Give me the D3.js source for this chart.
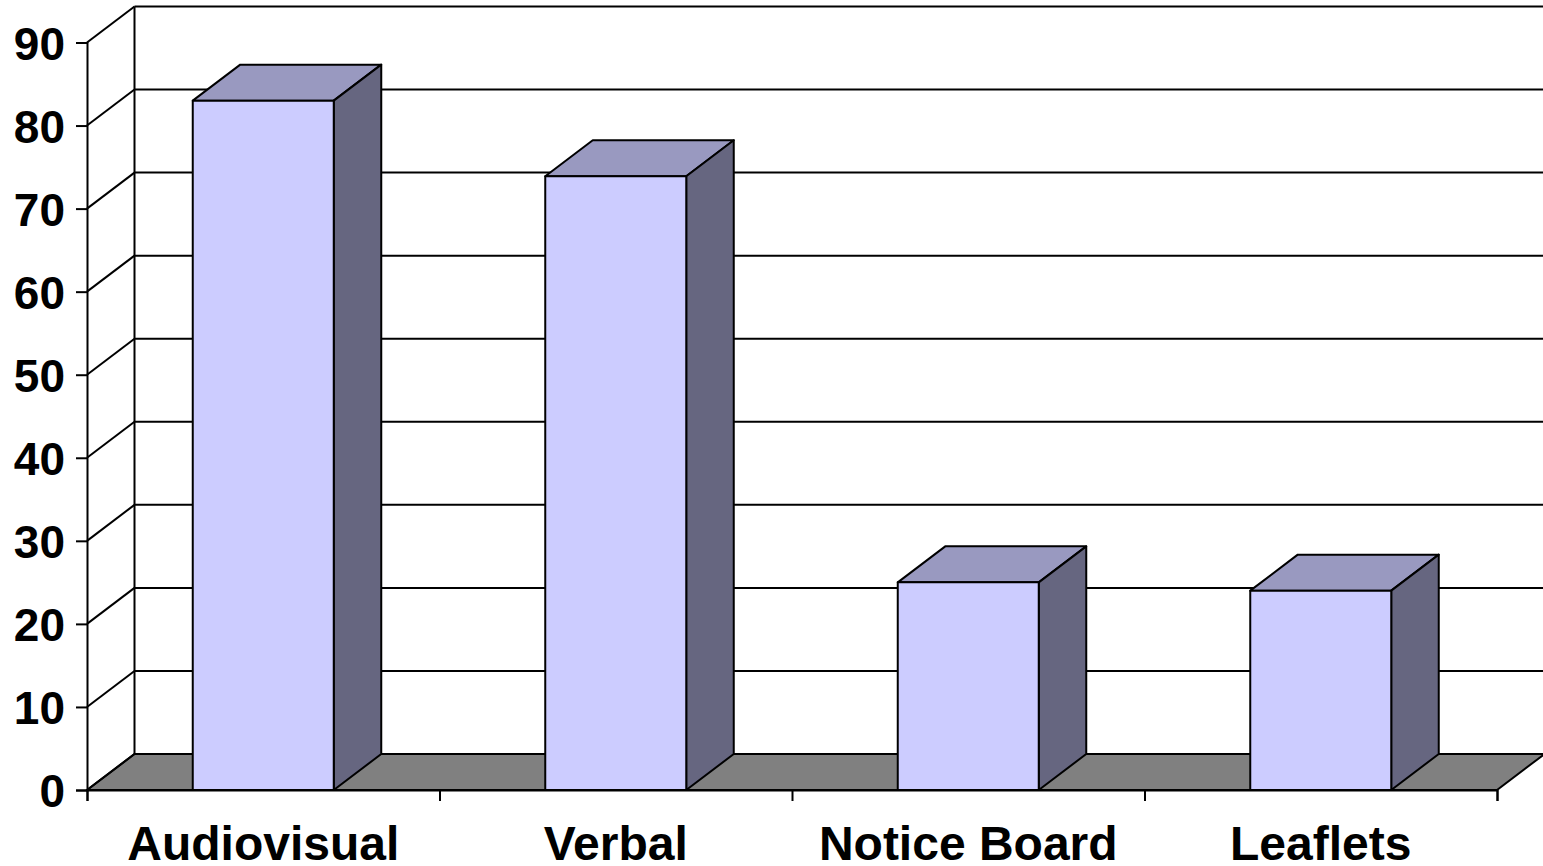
<!DOCTYPE html>
<html>
<head>
<meta charset="utf-8">
<title>Audiovisual, Verbal, Notice Board, Leaflets</title>
<script src="https://cdn.jsdelivr.net/npm/d3@7"></script>
<style>
  html, body { margin: 0; background: #fff; overflow: hidden; }
  svg { display: block; }
  text { font-family: "Liberation Sans", Arial, sans-serif; font-weight: bold; fill: #000; }
</style>
</head>
<body>
<div id="container"></div>
<script>
//CONSTANTS AND GLOBALS
const width = 1543,
  height = 866,
  margin = { top: 42.5, bottom: 76, left: 87, right: 46 },
  depth = { x: 47.5, y: -36 }, // offset from the front plane to the back wall
  labelSize = 48,
  tickSize = 46,
  lineWidth = 2;

//DATA
const categories = ["Audiovisual", "Verbal", "Notice Board", "Leaflets"];
const values = [83, 73.9, 25, 24];
const yTicks = [0, 10, 20, 30, 40, 50, 60, 70, 80, 90];

// SCALES
const xScale = d3.scaleBand()
  .domain(categories)
  .range([margin.left, width - margin.right])
  .paddingInner(0.6)
  .paddingOuter(0.3);

const edgeScale = d3.scaleLinear()
  .domain([0, categories.length])
  .range([margin.left, width - margin.right]);

const yScale = d3.scaleLinear()
  .domain([0, 90])
  .range([height - margin.bottom, margin.top]);

const svg = d3.select("#container")
  .append("svg")
  .attr("width", width)
  .attr("height", height);

const x0 = margin.left,
  x1 = width - margin.right,
  y0 = yScale(0);

// turns a list of [x, y] corners into a closed path
const poly = pts => "M" + pts.map(p => p.join(",")).join("L") + "Z";

// FLOOR
svg.append("path")
  .attr("d", poly([[x0, y0], [x0 + depth.x, y0 + depth.y], [x1 + depth.x, y0 + depth.y], [x1, y0]]))
  .attr("fill", "#808080")
  .attr("stroke", "#000")
  .attr("stroke-width", lineWidth);

// BACK WALL GRID
svg.append("g")
  .selectAll("line")
  .data(yTicks)
  .join("line")
  .attr("x1", x0 + depth.x)
  .attr("x2", x1 + depth.x)
  .attr("y1", d => yScale(d) + depth.y)
  .attr("y2", d => yScale(d) + depth.y)
  .attr("stroke", "#000")
  .attr("stroke-width", lineWidth);

// SIDE WALL DIAGONALS
svg.append("g")
  .selectAll("line")
  .data(yTicks)
  .join("line")
  .attr("x1", x0)
  .attr("x2", x0 + depth.x)
  .attr("y1", d => yScale(d))
  .attr("y2", d => yScale(d) + depth.y)
  .attr("stroke", "#000")
  .attr("stroke-width", lineWidth);

svg.append("line")
  .attr("x1", x0 + depth.x)
  .attr("x2", x0 + depth.x)
  .attr("y1", yScale(90) + depth.y)
  .attr("y2", y0 + depth.y)
  .attr("stroke", "#000")
  .attr("stroke-width", lineWidth);

// BARS
const bars = svg.append("g")
  .selectAll("g")
  .data(categories.map((name, i) => ({ name, value: values[i] })))
  .join("g")
  .attr("stroke", "#000")
  .attr("stroke-width", lineWidth)
  .attr("stroke-linejoin", "round");

// top face
bars.append("path")
  .attr("fill", "#9999C0")
  .attr("d", d => {
    const l = xScale(d.name), r = l + xScale.bandwidth(), t = yScale(d.value);
    return poly([[l, t], [l + depth.x, t + depth.y], [r + depth.x, t + depth.y], [r, t]]);
  });

// side face
bars.append("path")
  .attr("fill", "#666680")
  .attr("d", d => {
    const r = xScale(d.name) + xScale.bandwidth(), t = yScale(d.value);
    return poly([[r, t], [r + depth.x, t + depth.y], [r + depth.x, y0 + depth.y], [r, y0]]);
  });

// front face
bars.append("rect")
  .attr("fill", "#CCCCFF")
  .attr("x", d => xScale(d.name))
  .attr("y", d => yScale(d.value))
  .attr("width", xScale.bandwidth())
  .attr("height", d => y0 - yScale(d.value));

// AXES
const yAxis = svg.append("g")
  .attr("transform", `translate(${x0},0)`)
  .call(d3.axisLeft(yScale).tickValues(yTicks).tickSize(11).tickPadding(11));

// tick marks fall on the category boundaries
const xTicks = svg.append("g")
  .attr("transform", `translate(0,${y0})`)
  .call(d3.axisBottom(edgeScale).ticks(categories.length).tickSize(11).tickFormat(""));

// category names sit centred under each bar
const xLabels = svg.append("g")
  .attr("transform", `translate(0,${y0})`)
  .call(d3.axisBottom(xScale).tickSize(0).tickPadding(36));

[yAxis, xTicks].forEach(g => {
  g.selectAll("path.domain").attr("stroke", "#000").attr("stroke-width", lineWidth);
  g.selectAll("line").attr("stroke", "#000").attr("stroke-width", lineWidth);
});
xLabels.select("path.domain").remove();

yAxis.selectAll("g.tick text")
  .attr("font-size", tickSize)
  .attr("dy", "0.36em");
xLabels.selectAll("g.tick text")
  .attr("font-size", labelSize);
svg.selectAll("g.tick text").attr("font-family", null);
</script>
</body>
</html>
